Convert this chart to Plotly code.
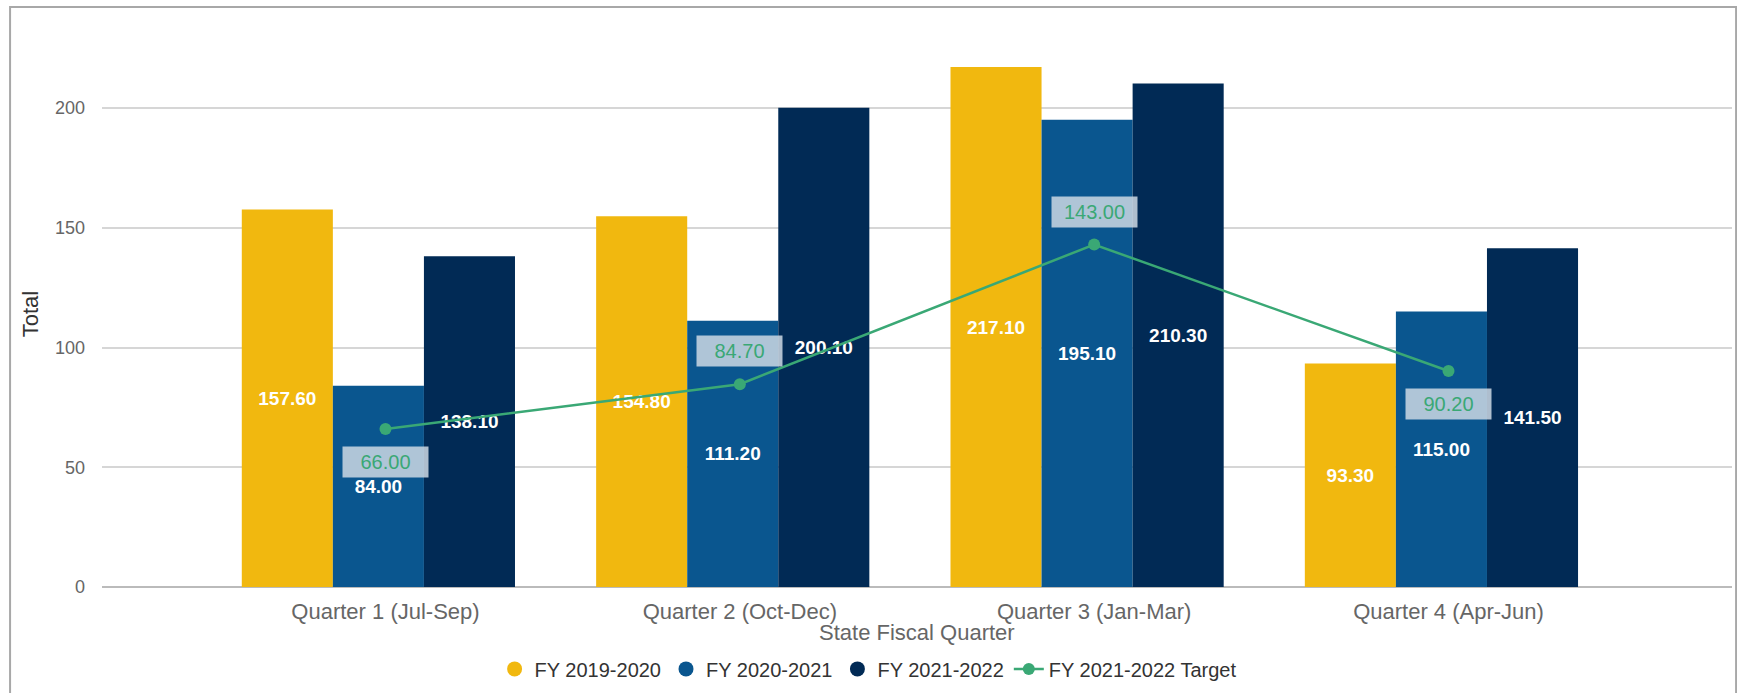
import plotly.graph_objects as go

# Data
quarters = ["Quarter 1 (Jul-Sep)", "Quarter 2 (Oct-Dec)", "Quarter 3 (Jan-Mar)", "Quarter 4 (Apr-Jun)"]
fy_2019_2020 = [157.6, 154.8, 217.1, 93.3]
fy_2020_2021 = [84.0, 111.2, 195.1, 115.0]
fy_2021_2022 = [138.1, 200.1, 210.3, 141.5]
target_2021_2022 = [66.0, 84.7, 143.0, 90.2]
target_label_side = ["below", "above", "above", "below"]

series_names = ["FY 2019-2020", "FY 2020-2021", "FY 2021-2022"]
series_values = [fy_2019_2020, fy_2020_2021, fy_2021_2022]
target_name = "FY 2021-2022 Target"

# Styling
FONT = "Liberation Sans, Arial, sans-serif"
BAR_COLORS = ["#F1B80F", "#0A568F", "#012A55"]
TARGET_COLOR = "#3AA875"
AXIS_TEXT = "#666666"
LEGEND_TEXT = "#333333"
BAR_WIDTH = 0.257      # in category units
GROUP_SHIFT = -0.02    # columns sit slightly left of the category centre

fig = go.Figure()

for i, (name, vals, color) in enumerate(zip(series_names, series_values, BAR_COLORS)):
    fig.add_trace(go.Bar(
        x=quarters, y=vals, name=name,
        width=BAR_WIDTH, offset=GROUP_SHIFT + (i - 1.5) * BAR_WIDTH,
        marker=dict(color=color, line=dict(width=0)),
        texttemplate="%{y:.2f}", textposition="inside",
        insidetextanchor="middle", constraintext="none",
        textfont=dict(family=FONT, size=19, color="white", weight="bold"),
        showlegend=False,
    ))

fig.add_trace(go.Scatter(
    x=quarters, y=target_2021_2022, name=target_name,
    mode="lines+markers",
    line=dict(color=TARGET_COLOR, width=2.5),
    marker=dict(color=TARGET_COLOR, size=12),
    showlegend=False,
))

# legend entries (round markers like the original)
for name, color in zip(series_names, BAR_COLORS):
    fig.add_trace(go.Scatter(
        x=[None], y=[None], name=name, mode="markers",
        marker=dict(color=color, size=15, symbol="circle"),
    ))
fig.add_trace(go.Scatter(
    x=[None], y=[None], name=target_name, mode="lines+markers",
    line=dict(color=TARGET_COLOR, width=2.5),
    marker=dict(color=TARGET_COLOR, size=12),
))

# target value labels
for q, v, side in zip(quarters, target_2021_2022, target_label_side):
    fig.add_annotation(
        x=q, y=v, text=f"{v:.2f}", showarrow=False,
        yshift=33 if side == "above" else -33,
        font=dict(family=FONT, size=20, color=TARGET_COLOR),
        bgcolor="rgba(205,216,228,0.85)", bordercolor="rgba(0,0,0,0)",
        borderwidth=1, borderpad=3, width=79, height=24,
    )

# axis titles
fig.add_annotation(
    x=0.5, y=-0.083, xref="paper", yref="paper", text="State Fiscal Quarter",
    showarrow=False, xanchor="center", yanchor="middle",
    font=dict(family=FONT, size=22, color=AXIS_TEXT),
)
fig.add_annotation(
    x=-0.044, y=0.5, xref="paper", yref="paper", text="Total", textangle=-90,
    showarrow=False, xanchor="center", yanchor="middle",
    font=dict(family=FONT, size=22, color=LEGEND_TEXT),
)

# outer frame
fig.add_shape(
    type="rect", xref="paper", yref="paper",
    x0=-0.0564, x1=1.0025, y0=-0.3, y1=1.0623,
    line=dict(color="#A8A8A8", width=2), fillcolor="rgba(0,0,0,0)", layer="below",
)

fig.update_layout(
    width=1737, height=693,
    margin=dict(l=102, r=5, t=41, b=106),
    plot_bgcolor="white", paper_bgcolor="white",
    font=dict(family=FONT, color=AXIS_TEXT),
    barmode="group",
    showlegend=True,
    legend=dict(
        orientation="h", x=0.47, xanchor="center", y=-0.15, yanchor="middle",
        font=dict(family=FONT, size=20, color=LEGEND_TEXT),
        itemwidth=30, traceorder="normal",
    ),
    xaxis=dict(
        type="category", range=[-0.8, 3.8],
        showgrid=False, showline=False, ticks="",
        tickfont=dict(family=FONT, size=22, color=AXIS_TEXT),
        ticklabelstandoff=9,
    ),
    yaxis=dict(
        range=[0, 228], tickvals=[0, 50, 100, 150, 200],
        showgrid=True, gridcolor="#D6D6D6", gridwidth=1.5,
        zeroline=True, zerolinecolor="#BBBBBB", zerolinewidth=1.5,
        showline=False, ticks="",
        tickfont=dict(family=FONT, size=18, color=AXIS_TEXT),
        ticklabelstandoff=16,
    ),
)

# page body has a default 8px margin; drop it so the chart fills the window
fig.write_html(
    "out.html",
    config={"displayModeBar": False},
    post_script="document.body.style.margin='0';",
)
